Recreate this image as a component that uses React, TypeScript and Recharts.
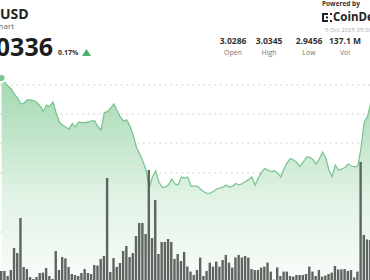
import { ComposedChart, Area, Bar, XAxis, YAxis, CartesianGrid } from "recharts";

// minutes from 12:00, one sample every 10 minutes
const startMinute = -260;
const stepMinutes = 10;

const prices = [
  3.0337, 3.0306, 3.0275, 3.0252, 3.0213, 3.0182, 3.0136, 3.0144, 3.0167, 3.0167,
  3.0163, 3.0148, 3.0121, 3.0077, 3.0128, 3.0117, 3.0152, 3.0067, 2.9997, 2.9974,
  2.9958, 2.9943, 2.9985, 2.9958, 2.9997, 2.9993, 2.9993, 2.9997, 3.0005, 3.0005,
  2.9962, 2.9935, 3.007, 3.0077, 3.0105, 3.0136, 3.0086, 3.0036, 3.0005, 3.0012,
  2.9966, 2.9896, 2.9804, 2.975, 2.9695, 2.9626, 2.9487, 2.9572, 2.9618, 2.9533,
  2.9494, 2.9494, 2.951, 2.9556, 2.9518, 2.951, 2.9572, 2.9564, 2.9572, 2.9502,
  2.9502, 2.9502, 2.9479, 2.9458, 2.9446, 2.9448, 2.946, 2.9479, 2.9487, 2.9494,
  2.951, 2.9494, 2.9502, 2.9522, 2.951, 2.9522, 2.9537, 2.9552, 2.9572, 2.951,
  2.9564, 2.961, 2.9637, 2.9626, 2.9614, 2.9618, 2.9603, 2.9572, 2.9634, 2.9684,
  2.9715, 2.9703, 2.9684, 2.9653, 2.9688, 2.9726, 2.9726, 2.9707, 2.9672, 2.9711,
  2.9765, 2.9723, 2.9626, 2.9574, 2.9665, 2.9626, 2.9634, 2.9645, 2.9672, 2.9657,
  2.9651, 2.9657, 2.9796, 2.9997, 3.0036, 3.0144,
];

// volume per bar, millions
const volumes = [
  0.45, 0.45, 0.2, 0.5, 1.6, 1.35, 3.1, 0.65, 0.55, 0.15,
  0.05, 0.15, 0.35, 0.37, 0.6, 0.2, 0.05, 1.45, 0.5, 1.15,
  1.08, 0.65, 0.3, 0.25, 0.2, 0.35, 0.55, 0.35, 0.3, 0.75,
  0.72, 1.05, 1.2, 5.1, 0.4, 1.1, 0.65, 0.85, 1.45, 1.7,
  1.15, 1.35, 2.2, 2.85, 2.85, 2.3, 5.5, 2.1, 4.0, 1.3,
  1.9, 1.9, 2.05, 1.9, 1.05, 1.3, 0.95, 1.4, 0.67, 0.42,
  0.25, 0.5, 1.12, 0.2, 0.45, 0.87, 0.67, 0.92, 0.67, 1.0,
  1.25, 0.87, 0.62, 1.13, 1.25, 1.13, 1.2, 1.12, 0.55, 0.5,
  0.5, 0.62, 0.67, 0.87, 0.42, 0.02, 0.63, 0.2, 0.42, 0.42,
  0.2, 0.17, 0.25, 0.25, 0.25, 0.3, 0.67, 0.42, 0.2, 0.5,
  0.17, 0.22, 0.3, 0.37, 0.7, 0.53, 0.53, 0.55, 0.45, 0.5,
  0.13, 0.42, 5.9, 2.25, 2.03, 2.0,
];

const tickMinutes = [0, 360, 720];
const tickLabels = ["12:00", "18:00", "00:00"];

const stats = [
  { value: "3.0286", label: "Open", center: 233 },
  { value: "3.0345", label: "High", center: 269 },
  { value: "2.9456", label: "Low", center: 309 },
  { value: "137.1 M", label: "Vol", center: 345 },
];

const data = prices.map((price, i) => ({
  t: startMinute + i * stepMinutes,
  price,
  vol: volumes[i],
}));

const TimeTick = (props: any) => {
  const { x, payload } = props;
  const idx = tickMinutes.indexOf(payload.value);
  return (
    <g>
      <line x1={x} x2={x} y1={207} y2={209} stroke="#aaa" strokeWidth={1} />
      <text
        x={x}
        y={222}
        textAnchor="middle"
        fontSize={7.5}
        fontWeight={700}
        fill="#333"
        fontFamily="Open Sans, sans-serif"
      >
        {tickLabels[idx]}
      </text>
    </g>
  );
};

const abs = (left: number, top: number, extra: any = {}) => ({
  position: "absolute" as const,
  left,
  top,
  lineHeight: 1,
  whiteSpace: "nowrap" as const,
  ...extra,
});

export default function App() {
  return (
    <div
      style={{
        position: "absolute",
        left: 0,
        top: 0,
        width: 370,
        height: 280,
        overflow: "hidden",
        background: "#fff",
        fontFamily: "Open Sans, sans-serif",
      }}
    >
      <ComposedChart
        width={370}
        height={280}
        data={data}
        margin={{ top: 0, right: 0, bottom: 0, left: 0 }}
      >
        <defs>
          <linearGradient id="priceFill" x1="0" y1="0" x2="0" y2="1">
            <stop offset="0%" stopColor="#a3d8b0" />
            <stop offset="60%" stopColor="#e2f3e6" />
            <stop offset="100%" stopColor="#f8fcf9" />
          </linearGradient>
        </defs>
        <CartesianGrid
          vertical={false}
          horizontalPoints={[85, 114, 143, 173, 232]}
          stroke="#c8c8c8"
          strokeDasharray="1.5 4"
        />
        <XAxis
          dataKey="t"
          type="number"
          domain={[-265, 888]}
          ticks={tickMinutes}
          tick={<TimeTick />}
          axisLine={false}
          tickLine={false}
          height={0}
          allowDataOverflow
        />
        <YAxis yAxisId="price" domain={[2.8776, 3.094]} hide allowDataOverflow />
        <YAxis yAxisId="vol" domain={[0, 14]} hide />
        <Area
          yAxisId="price"
          type="linear"
          dataKey="price"
          stroke="#7cc593"
          strokeWidth={1.3}
          fill="url(#priceFill)"
          fillOpacity={1}
          isAnimationActive={false}
        />
        <Bar yAxisId="vol" dataKey="vol" fill="#5e645f" barSize={2.4} isAnimationActive={false} />
      </ComposedChart>

      <div style={abs(0, 0, { width: 370, height: 70, pointerEvents: "none" })}>
        <div style={abs(0, 7, { fontSize: 14, fontWeight: 700, color: "#222" })}>USD</div>
        <div style={abs(-40, 22, { width: 54, textAlign: "right", fontSize: 8, lineHeight: "8px", color: "#666" })}>
          Price Chart
        </div>
        <div style={abs(-60, 34, { width: 113, textAlign: "right", fontSize: 25, lineHeight: "24px", fontWeight: 700, color: "#1e1e1e" })}>
          3.0336
        </div>
        <div style={abs(58, 49, { fontSize: 7, fontWeight: 700, color: "#333" })}>0.17%</div>
        <svg style={{ position: "absolute", left: 82, top: 49 }} width={9} height={7}>
          <polygon points="4.5,0 9,7 0,7" fill="#4caf6a" />
        </svg>

        <div style={abs(322, 1, { fontSize: 6.5, fontWeight: 700, color: "#333" })}>Powered by</div>
        <svg style={{ position: "absolute", left: 322, top: 13 }} width={10} height={9}>
          <rect x={0} y={0} width={2} height={9} fill="#222" />
          <rect x={0} y={0} width={6} height={2} fill="#222" />
          <rect x={0} y={7} width={6} height={2} fill="#222" />
          <rect x={4} y={3.5} width={2} height={2} fill="#222" />
          <rect x={8} y={0} width={2} height={2} fill="#222" />
          <rect x={8} y={7} width={2} height={2} fill="#222" />
        </svg>
        <div style={abs(333, 11, { fontSize: 11.5, fontWeight: 700, color: "#222" })}>CoinDesk</div>
        <div style={abs(325, 27, { fontSize: 6, color: "#aaa" })}>5 Oct 2025 05:00 UTC</div>

        {stats.map((s) => (
          <div key={s.label}>
            <div style={abs(s.center - 25, 37, { width: 50, textAlign: "center", fontSize: 8.5, fontWeight: 700, color: "#333" })}>
              {s.value}
            </div>
            <div style={abs(s.center - 25, 49, { width: 50, textAlign: "center", fontSize: 7, color: "#777" })}>
              {s.label}
            </div>
          </div>
        ))}
      </div>
    </div>
  );
}
